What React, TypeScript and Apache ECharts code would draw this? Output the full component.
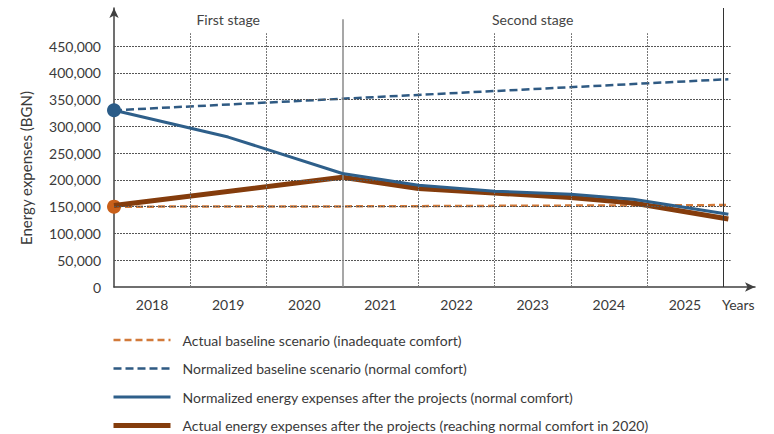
import React, { useEffect, useRef } from "react";
import * as echarts from "echarts";

// Year categories (each occupies one unit on the x scale; 0 = start of 2018)
const years = ["2018", "2019", "2020", "2021", "2022", "2023", "2024", "2025"];
const yTicks = [0, 50000, 100000, 150000, 200000, 250000, 300000, 350000, 400000, 450000];
const stageNames = ["First stage", "Second stage"];
const stageBounds = [[0, 3], [3, 8]];

// Series values as [position in years from start of 2018, BGN]
const actualBaseline: [number, number][] = [[0, 150000], [3, 150500], [6, 152000], [8.07, 153000]];
const normalizedBaseline: [number, number][] = [[0, 330000], [8.07, 388000]];
const normalizedAfter: [number, number][] = [
  [0, 330000], [1.5, 280000], [3, 212000], [4, 190000], [5, 179000], [6, 173000], [6.82, 164000], [8.07, 136000],
];
const actualAfter: [number, number][] = [
  [0, 152000], [3, 205000], [4, 184000], [6, 167000], [6.82, 157000], [8.07, 127000],
];

const legendNames = [
  "Actual baseline scenario (inadequate comfort)",
  "Normalized baseline scenario (normal comfort)",
  "Normalized energy expenses after the projects (normal comfort)",
  "Actual energy expenses after the projects (reaching normal comfort in 2020)",
];

const FONT = "Lato, 'Open Sans', sans-serif";
const TXT = "#3a3a3a";

export default function App() {
  const ref = useRef<HTMLDivElement>(null);
  useEffect(() => {
    if (!ref.current) return;
    const chart = echarts.init(ref.current, undefined, { renderer: "svg" });

    const hGrid = yTicks.filter((v) => v > 0).map((v) => [
      { coord: [0, v], lineStyle: { color: "#555", type: [2, 1], width: 1 } },
      { coord: [8.1, v] },
    ]);
    const vGrid: any[] = [];
    for (let i = 1; i <= years.length; i++) {
      if (i === 3) {
        vGrid.push([{ coord: [i, 0], lineStyle: { color: "#8a8a8a", type: "solid", width: 1.5 } }, { coord: [i, 500000] }]);
      } else if (i === years.length) {
        vGrid.push([{ coord: [i, 0], lineStyle: { color: "#333", type: "solid", width: 1 } }, { coord: [i, 521000] }]);
      } else {
        vGrid.push([{ coord: [i, 0], lineStyle: { color: "#777", type: [2, 1], width: 1 } }, { coord: [i, 474000] }]);
      }
    }

    const legendWidths = [2.5, 2.5, 3, 5];

    chart.setOption({
      animation: false,
      grid: { left: 114, right: 19, top: 8, bottom: 147, containLabel: false },
      xAxis: {
        type: "value",
        min: 0,
        max: 8.42,
        interval: 0.5,
        axisLine: {
          show: true,
          symbol: ["none", "arrow"],
          symbolSize: [7, 10],
          lineStyle: { color: "#404040", width: 1.5 },
        },
        axisTick: { show: false },
        splitLine: { show: false },
        axisLabel: {
          margin: 10,
          fontSize: 14,
          fontFamily: FONT,
          color: TXT,
          formatter: (v: number) => {
            const f = v - Math.floor(v);
            if (Math.abs(f - 0.5) < 1e-6) return years[Math.floor(v)] ?? "";
            return "";
          },
        },
        name: "Years",
        nameLocation: "end",
        nameGap: -33,
        nameTextStyle: { align: "left", verticalAlign: "top", padding: [10, 0, 0, 0], fontSize: 14, fontFamily: FONT, color: TXT },
      },
      yAxis: {
        type: "value",
        min: 0,
        max: 521000,
        interval: 50000,
        axisLine: {
          show: true,
          symbol: ["none", "arrow"],
          symbolSize: [7, 10],
          lineStyle: { color: "#404040", width: 1.5 },
        },
        axisTick: { show: false },
        splitLine: { show: false },
        axisLabel: {
          margin: 13,
          fontSize: 14,
          fontFamily: FONT,
          color: TXT,
          formatter: (v: number) => (yTicks.includes(v) ? v.toLocaleString("en-US") : ""),
        },
      },
      legend: {
        data: legendNames.map((n, i) => ({ name: n, lineStyle: { width: legendWidths[i] } })),
        orient: "vertical",
        left: 111,
        top: 333,
        height: 120,
        padding: 0,
        itemWidth: 57,
        itemHeight: 14,
        itemGap: 14.5,
        selectedMode: false,
        itemStyle: { opacity: 0 },
        textStyle: { fontSize: 14, fontFamily: FONT, color: TXT, padding: [0, 0, 0, 7] },
      },
      graphic: [
        {
          type: "text",
          x: 26,
          y: 168,
          rotation: Math.PI / 2,
          style: {
            text: "Energy expenses (BGN)",
            fontSize: 15,
            fontFamily: FONT,
            fill: TXT,
            align: "center",
            verticalAlign: "middle",
          },
        },
      ],
      series: [
        {
          name: "grid",
          type: "line",
          data: [],
          z: 1,
          silent: true,
          markLine: {
            silent: true,
            symbol: ["none", "none"],
            label: { show: false },
            data: [...hGrid, ...vGrid],
          },
          markArea: {
            silent: true,
            itemStyle: { color: "rgba(0,0,0,0)" },
            label: {
              show: true,
              position: "insideTop",
              distance: 4,
              fontSize: 14,
              fontFamily: FONT,
              color: "#444",
            },
            data: stageBounds.map((b, i) => [{ xAxis: b[0], name: stageNames[i] }, { xAxis: b[1] }]),
          },
        },
        {
          name: legendNames[0],
          type: "line",
          z: 3,
          symbol: "none",
          showSymbol: true,
          color: "#D27A3A",
          lineStyle: { color: "#D27A3A", width: 2.5, type: [7, 4] },
          data: actualBaseline.map((p, i) =>
            i === 0
              ? { value: p, symbol: "circle", symbolSize: 14, itemStyle: { color: "#C9601A" } }
              : { value: p }
          ),
        },
        {
          name: legendNames[1],
          type: "line",
          z: 3,
          symbol: "none",
          color: "#2F5A83",
          lineStyle: { color: "#2F5A83", width: 2.5, type: [8, 4] },
          data: normalizedBaseline,
        },
        {
          name: legendNames[3],
          type: "line",
          z: 4,
          symbol: "none",
          color: "#843C0C",
          lineStyle: { color: "#843C0C", width: 5 },
          data: actualAfter,
        },
        {
          name: legendNames[2],
          type: "line",
          z: 5,
          symbol: "none",
          showSymbol: true,
          color: "#2E5F8A",
          lineStyle: { color: "#2E5F8A", width: 3 },
          data: normalizedAfter.map((p, i) =>
            i === 0
              ? { value: p, symbol: "circle", symbolSize: 14, itemStyle: { color: "#2B5C88" } }
              : { value: p }
          ),
        },
      ],
    });
    return () => chart.dispose();
  }, []);
  return <div ref={ref} style={{ width: 774, height: 434, position: "absolute", left: 0, top: 0 }} />;
}
